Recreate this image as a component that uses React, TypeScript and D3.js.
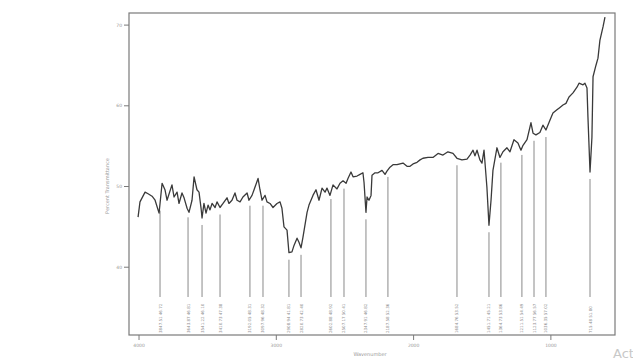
import React from 'react';
import * as d3 from 'd3';

// spectrum trace: wavenumber (cm-1) and %T
const wavenumbers = [
  4007, 3993, 3956, 3934, 3905, 3883, 3854, 3832, 3811, 3796, 3760, 3745, 3723, 3709, 3687, 3672,
  3650, 3636, 3614, 3599, 3578, 3563, 3548, 3541, 3527, 3512, 3497, 3483, 3468, 3446, 3432, 3410,
  3388, 3359, 3345, 3323, 3301, 3286, 3264, 3243, 3213, 3199, 3177, 3162, 3133, 3119, 3104, 3082,
  3068, 3046, 3024, 2995, 2973, 2959, 2944, 2922, 2908, 2886, 2871, 2849, 2835, 2820, 2806, 2776,
  2762, 2733, 2711, 2689, 2667, 2645, 2631, 2609, 2587, 2558, 2536, 2514, 2492, 2478, 2456, 2441,
  2412, 2390, 2369, 2361, 2347, 2339, 2325, 2310, 2303, 2281, 2259, 2230, 2208, 2194, 2172, 2150,
  2121, 2099, 2077, 2048, 2026, 2004, 1975, 1953, 1932, 1895, 1859, 1822, 1786, 1750, 1713, 1684,
  1648, 1611, 1589, 1567, 1553, 1538, 1517, 1502, 1487, 1466, 1451, 1436, 1422, 1393, 1371, 1349,
  1320, 1298, 1269, 1240, 1218, 1203, 1174, 1145, 1130, 1109, 1080, 1058, 1036, 1007, 985, 956,
  934, 912, 890, 868, 839, 810, 795, 766, 752, 737, 730, 715, 701, 693, 672, 657, 643, 620, 606,
];
const transmittance = [
  46.2, 48.1, 49.3, 49.1, 48.8, 48.3, 46.7, 50.4, 49.6, 48.3, 50.2, 48.7, 49.3, 47.9, 49.2, 48.6,
  47.3, 46.8, 48.3, 51.2, 49.6, 49.3, 47.3, 46.1, 47.9, 46.7, 47.7, 47.1, 47.9, 47.4, 48.1, 47.4,
  47.9, 48.6, 47.9, 48.3, 49.2, 48.3, 48.1, 48.7, 49.2, 48.3, 48.9, 49.6, 51.0, 49.6, 48.3, 48.9,
  48.1, 47.9, 47.4, 47.9, 48.1, 47.3, 45.0, 44.6, 41.8, 41.9, 42.7, 43.6, 43.1, 42.4, 43.7, 46.8,
  47.7, 48.9, 49.6, 48.3, 49.8, 49.3, 49.8, 48.9, 50.2, 49.7, 50.4, 50.7, 50.4, 51.0, 51.8, 51.2,
  51.3, 51.5, 51.7, 50.5, 46.8, 48.7, 48.3, 48.9, 51.4, 51.7, 51.7, 52.0, 51.5, 51.9, 52.4, 52.7,
  52.7, 52.8, 52.9, 52.5, 52.5, 52.8, 53.0, 53.3, 53.5, 53.6, 53.6, 54.1, 53.9, 54.3, 54.1, 53.5,
  53.3, 53.4, 53.9, 54.5, 53.8, 54.5, 53.3, 52.9, 54.5, 49.9, 45.2, 48.3, 52.0, 54.8, 53.6, 54.3,
  54.8, 54.3, 55.8, 55.4, 54.5, 55.1, 55.8, 57.9, 56.6, 56.4, 56.7, 57.6, 57.0, 58.2, 59.1, 59.5,
  59.8, 60.1, 60.3, 61.1, 61.6, 62.3, 62.8, 62.6, 62.8, 62.2, 58.6, 51.8, 56.1, 63.6, 65.0, 65.9,
  68.1, 69.8, 71.0,
];

// marked peaks and their printed labels
const peakWavenumbers = [
  3847, 3643, 3541, 3410, 3192, 3097, 2908, 2820, 2602, 2507, 2347, 2187, 1684, 1451, 1364, 1211,
  1123, 1036, 715,
];
const peakLabels = [
  '3847.51 46.72', '3643.87 46.81', '3541.22 46.10', '3410.73 47.38', '3192.05 48.31',
  '3097.96 48.32', '2908.94 41.81', '2820.73 42.40', '2602.88 48.92', '2507.17 50.41',
  '2347.91 46.82', '2187.58 52.36', '1684.76 53.52', '1451.71 45.21', '1364.73 53.86',
  '1211.51 54.49', '1123.77 56.57', '1036.35 57.02', '715.48 51.80',
];

const xTicks = [4000, 3000, 2000, 1000];
const yTicks = [40, 50, 60, 70];

const W = 633;
const H = 361;
const margin = { top: 13, right: 18, bottom: 26, left: 129 };

export default function App() {
  const x = d3.scaleLinear().domain([4073, 533]).range([margin.left, W - margin.right]);
  const y = d3.scaleLinear().domain([31.6, 71.5]).range([H - margin.bottom, margin.top]);
  const pts = wavenumbers.map((w, i) => [w, transmittance[i]] as [number, number]);
  const line = d3.line<[number, number]>().x(d => x(d[0])).y(d => y(d[1]));

  // %T on the trace at a given wavenumber (trace is sorted descending)
  const valueAt = (w: number) => {
    const i = pts.findIndex(p => p[0] <= w);
    if (i <= 0) return pts[0][1];
    const a = pts[i - 1], b = pts[i];
    const t = (a[0] - w) / (a[0] - b[0]);
    return a[1] + (b[1] - a[1]) * t;
  };

  const x0 = margin.left, x1 = W - margin.right;
  const y0 = margin.top, y1 = H - margin.bottom;
  const lineBottom = 297;
  const labelBase = 333;

  return (
    <svg width={W} height={H} style={{ position: 'absolute', left: 0, top: 0, background: '#fff' }}
      fontFamily="DejaVu Sans, sans-serif">
      <rect x={x0} y={y0} width={x1 - x0} height={y1 - y0} fill="none" stroke="#7a7a7a" strokeWidth={1.2} />

      {xTicks.map(t => (
        <g key={t} transform={`translate(${x(t)},${y1})`}>
          <line y2={5} stroke="#7a7a7a" />
          <text y={12} textAnchor="middle" fontSize={4.5} fill="#999">{t}</text>
        </g>
      ))}
      {yTicks.map(t => (
        <g key={t} transform={`translate(${x0},${y(t)})`}>
          <line x2={-5} stroke="#7a7a7a" />
          <text x={-7} dy="0.35em" textAnchor="end" fontSize={4.5} fill="#999">{t}</text>
        </g>
      ))}

      <text transform={`translate(109,186) rotate(-90)`} textAnchor="middle" fontSize={5} fill="#999">
        Percent Transmittance
      </text>
      <text x={370} y={356} textAnchor="middle" fontSize={5} fill="#999">Wavenumber</text>

      {peakWavenumbers.map((w, i) => (
        <g key={w}>
          <line x1={x(w)} x2={x(w)} y1={y(valueAt(w)) + 7} y2={lineBottom} stroke="#8a8a8a" strokeWidth={1} />
          <text transform={`translate(${x(w) + 1.5},${labelBase}) rotate(-90)`} fontSize={4} fill="#8c8c8c">
            {peakLabels[i]}
          </text>
        </g>
      ))}

      <path d={line(pts) ?? ''} fill="none" stroke="#3a3a3a" strokeWidth={1.3} strokeLinejoin="round" />

      <text x={613} y={358} fontSize={13} fill="#c8c8c8">Act</text>
    </svg>
  );
}
